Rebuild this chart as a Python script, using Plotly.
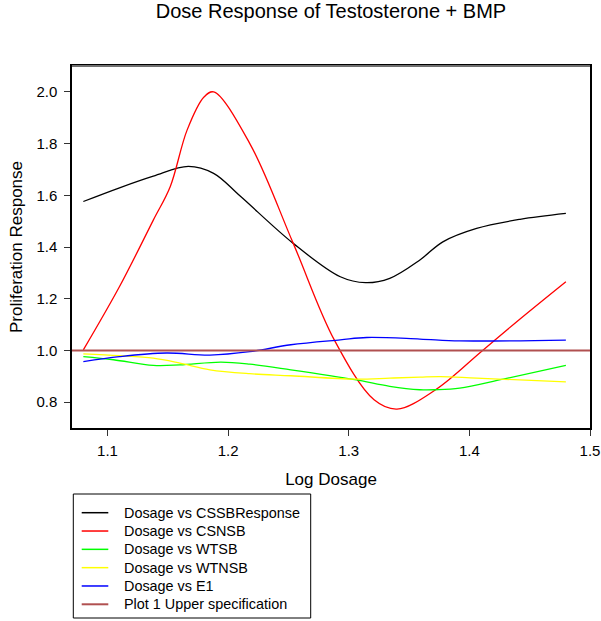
import plotly.graph_objects as go

# Data
cssb_x = [1.080, 1.110, 1.138, 1.167, 1.188, 1.210, 1.254, 1.293, 1.314, 1.334, 1.359, 1.378, 1.406, 1.442, 1.480]
cssb_y = [1.576, 1.629, 1.674, 1.712, 1.685, 1.597, 1.414, 1.285, 1.262, 1.279, 1.350, 1.420, 1.472, 1.507, 1.530]

csnsb_x = [1.080, 1.110, 1.138, 1.152, 1.166, 1.180, 1.188, 1.218, 1.254, 1.288, 1.321, 1.340, 1.372, 1.410, 1.441, 1.480]
csnsb_y = [1.002, 1.247, 1.504, 1.633, 1.852, 1.980, 2.000, 1.800, 1.414, 1.041, 0.809, 0.773, 0.848, 0.996, 1.118, 1.266]

wtsb_x = [1.080, 1.105, 1.138, 1.160, 1.194, 1.218, 1.252, 1.305, 1.334, 1.359, 1.372, 1.392, 1.428, 1.480]
wtsb_y = [0.976, 0.964, 0.942, 0.944, 0.955, 0.947, 0.925, 0.887, 0.861, 0.848, 0.848, 0.854, 0.889, 0.942]

wtnsb_x = [1.080, 1.110, 1.138, 1.160, 1.185, 1.218, 1.252, 1.305, 1.334, 1.359, 1.376, 1.406, 1.480]
wtnsb_y = [0.987, 0.980, 0.970, 0.951, 0.925, 0.910, 0.902, 0.889, 0.893, 0.897, 0.899, 0.893, 0.878]

e1_x = [1.080, 1.110, 1.149, 1.185, 1.218, 1.252, 1.293, 1.315, 1.359, 1.392, 1.480]
e1_y = [0.957, 0.976, 0.990, 0.982, 0.995, 1.022, 1.041, 1.050, 1.044, 1.037, 1.040]

spec_x = [1.0706, 1.5]
spec_y = [1.0, 1.0]

x_ticks = [1.1, 1.2, 1.3, 1.4, 1.5]
y_ticks = [0.8, 1.0, 1.2, 1.4, 1.6, 1.8, 2.0]

series_names = ["Dosage vs CSSBResponse", "Dosage vs CSNSB", "Dosage vs WTSB",
                "Dosage vs WTNSB", "Dosage vs E1", "Plot 1 Upper specification"]
series_colors = ["#000000", "#FF0000", "#00FF00", "#FFFF00", "#0000FF", "#B05050"]

series = list(zip(series_names[:5],
                  [cssb_x, csnsb_x, wtsb_x, wtnsb_x, e1_x],
                  [cssb_y, csnsb_y, wtsb_y, wtnsb_y, e1_y],
                  series_colors[:5]))

fig = go.Figure()
for name, xs, ys, col in series:
    fig.add_trace(go.Scatter(x=xs, y=ys, mode="lines", name=name, showlegend=False,
                             line=dict(color=col, width=1.3, shape="spline", smoothing=1.0)))
fig.add_trace(go.Scatter(x=spec_x, y=spec_y, mode="lines", name=series_names[5], showlegend=False,
                         line=dict(color=series_colors[5], width=2)))

font_family = "Liberation Sans, Arial, sans-serif"

# plot area geometry in pixels (for the hand-built legend box below the chart)
L, R, T, B = 72, 11, 66, 193
W, H = 601 - L - R, 621 - T - B


def px_x(px):
    return (px - L) / W


def px_y(py):
    return (621 - B - py) / H


shapes = [
    dict(type="line", xref="paper", yref="paper", x0=0, x1=1, y0=1, y1=1,
         line=dict(color="#707070", width=2)),
    dict(type="rect", xref="paper", yref="paper", x0=px_x(73.3), x1=px_x(310.7),
         y0=px_y(618), y1=px_y(494), line=dict(color="#000000", width=1), fillcolor="white"),
]
annotations = []
row0, row_step = 512.7, 18.32
for i, (nm, col) in enumerate(zip(series_names, series_colors)):
    yc = row0 + i * row_step
    shapes.append(dict(type="line", xref="paper", yref="paper", x0=px_x(81.7), x1=px_x(108.3),
                       y0=px_y(yc), y1=px_y(yc),
                       line=dict(color=col, width=2 if i == 5 else 1.5)))
    annotations.append(dict(text=nm, xref="paper", yref="paper", x=px_x(122.0), y=px_y(yc),
                            xanchor="left", yanchor="middle", showarrow=False,
                            font=dict(size=14.4, family=font_family, color="#000000")))

fig.update_layout(
    width=601, height=621,
    margin=dict(l=L, r=R, t=T, b=B, autoexpand=False),
    paper_bgcolor="white", plot_bgcolor="white",
    font=dict(family=font_family, color="#000000"),
    title=dict(text="Dose Response of Testosterone + BMP", x=0.5, xref="paper",
               y=1 - 4 / 621, yref="container", yanchor="top", xanchor="center",
               font=dict(size=20, family=font_family, color="#000000")),
    showlegend=False,
    shapes=shapes,
    annotations=annotations,
    xaxis=dict(range=[1.0706, 1.5], tickvals=x_ticks, ticktext=[f"{v:.1f}" for v in x_ticks],
               showgrid=False, zeroline=False, showline=True, linecolor="#000000", linewidth=1.5,
               mirror=True, ticks="outside", ticklen=6, tickcolor="#333333", tickwidth=1,
               ticklabelstandoff=2,
               tickfont=dict(size=15), title=dict(text="Log Dosage", font=dict(size=17), standoff=15)),
    yaxis=dict(range=[0.7, 2.1], tickvals=y_ticks, ticktext=[f"{v:.1f}" for v in y_ticks],
               showgrid=False, zeroline=False, showline=True, linecolor="#000000", linewidth=1.5,
               mirror=True, ticks="outside", ticklen=6, tickcolor="#333333", tickwidth=1,
               ticklabelstandoff=4,
               tickfont=dict(size=15), title=dict(text="Proliferation Response", font=dict(size=17), standoff=9)),
)

fig.write_html("out.html", config={"displayModeBar": False},
               post_script="document.body.style.margin='0';document.body.style.padding='0';")
